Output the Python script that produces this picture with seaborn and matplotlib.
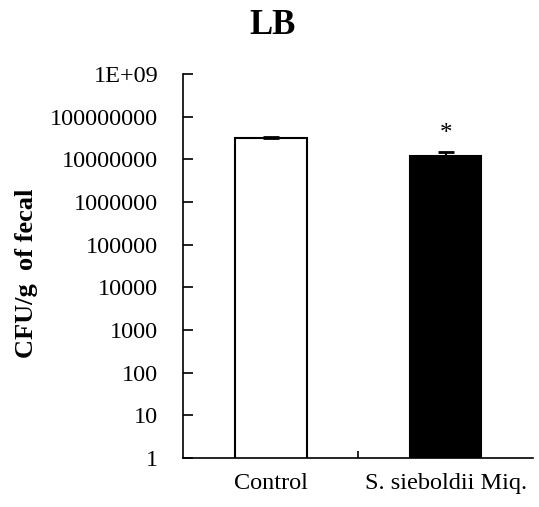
import matplotlib.pyplot as plt
import numpy as np
import seaborn as sns
import pandas as pd

groups = ['Control', 'S. sieboldii Miq.']
cfu = [3.1e7, 1.2e7]
err = [0.15e7, 0.27e7]
ytick_vals = [1, 10, 100, 1000, 10000, 100000, 1000000, 10000000, 100000000, 1e9]
ytick_labels = ['1', '10', '100', '1000', '10000', '100000', '1000000',
                '10000000', '100000000', '1E+09']

sns.set_style('ticks')
plt.rcParams['font.family'] = ['Liberation Serif', 'DejaVu Serif']
plt.rcParams['text.color'] = 'black'
plt.rcParams['axes.labelcolor'] = 'black'
plt.rcParams['xtick.color'] = 'black'
plt.rcParams['ytick.color'] = 'black'
plt.rcParams['axes.edgecolor'] = 'black'

df = pd.DataFrame({'group': groups, 'cfu': cfu})

fig = plt.figure(figsize=(5.39, 5.07), dpi=100)
ax = fig.add_axes([0.34, 0.097, 0.649, 0.757])
sns.barplot(data=df, x='group', y='cfu', hue='group', palette=['white', 'black'],
            edgecolor='black', linewidth=1.5, width=0.41, legend=False, ax=ax, log_scale=True)
ax.errorbar(range(len(groups)), cfu, yerr=[[0, 0], err], fmt='none',
            ecolor='black', elinewidth=1.5, capsize=6, capthick=2)
ax.text(1, (cfu[1] + err[1]) * 2.6, '*', ha='center', va='center', fontsize=18)

ax.set_yscale('log')
ax.set_ylim(1, 1e9)
ax.set_xlim(-0.5, 1.5)
ax.set_yticks(ytick_vals)
ax.set_yticklabels(ytick_labels)
ax.yaxis.set_minor_locator(plt.NullLocator())
ax.tick_params(axis='y', direction='in', length=7, width=1.2, labelsize=17.5, pad=18)
ax.set_xticks([0.5], minor=True)
ax.tick_params(axis='x', which='major', length=0, labelsize=17.5, pad=11)
ax.tick_params(axis='x', which='minor', direction='in', length=5, width=1.2)
for s in ['top', 'right']:
    ax.spines[s].set_visible(False)
for s in ['left', 'bottom']:
    ax.spines[s].set_linewidth(1.2)

ax.set_xlabel('')
ax.set_ylabel('CFU/g  of fecal', fontsize=19, fontweight='bold')
ax.yaxis.set_label_coords(-0.415, 0.48)
fig.suptitle('LB', x=0.505, y=0.982, fontsize=25, fontweight='bold')

plt.savefig('out.png', dpi=100)
